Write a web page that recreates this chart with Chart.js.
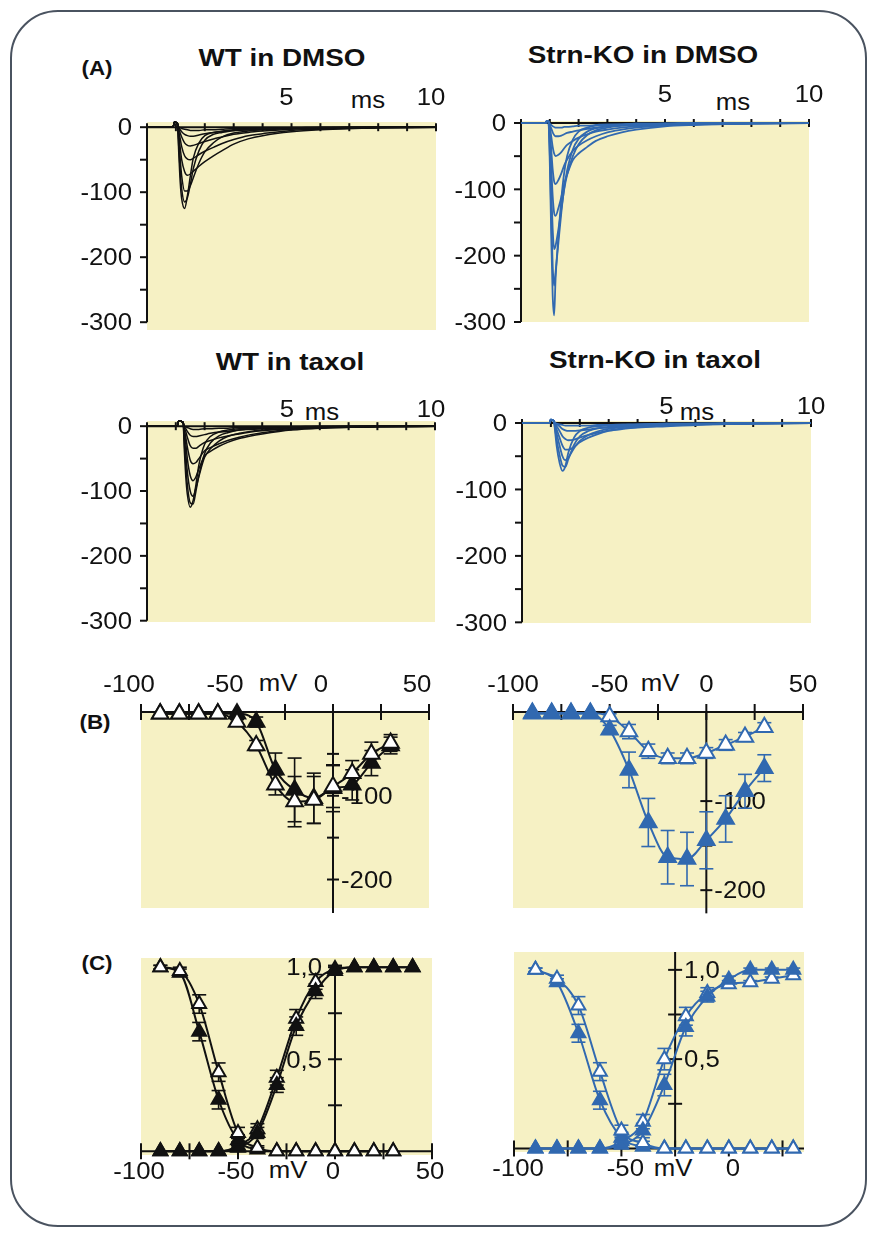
<!DOCTYPE html>
<html>
<head>
<meta charset="utf-8">
<script src="https://cdn.jsdelivr.net/npm/chart.js@4.4.1/dist/chart.umd.min.js"></script>
<style>
body { margin: 0; background: #fff; width: 875px; height: 1238px; position: relative; overflow: hidden; font-family: "Liberation Sans", Arial, sans-serif; }
#frame { position: absolute; left: 10px; top: 10px; width: 853px; height: 1213px; border: 2px solid #4a5360; border-radius: 48px; }
canvas { position: absolute; }
.t { position: absolute; transform: translate(-50%, -50%) scaleX(1.12); white-space: nowrap; line-height: 1; font-size: 23px; color: #111; }
.b { font-weight: bold; font-size: 24px; transform: translate(-50%, -50%) scaleX(1.16); }
.p { font-weight: bold; font-size: 20px; }
</style>
</head>
<body>
<div id="frame"></div>

<div class="t p" style="left:97px;top:68px">(A)</div>
<div class="t b" style="left:282px;top:58px">WT in DMSO</div>
<div class="t b" style="left:643px;top:55px">Strn-KO in DMSO</div>
<div class="t b" style="left:290px;top:362px">WT in taxol</div>
<div class="t b" style="left:655px;top:360px">Strn-KO in taxol</div>
<div class="t" style="left:368px;top:100px">ms</div>
<div class="t" style="left:733px;top:102px">ms</div>
<div class="t" style="left:322px;top:412px">ms</div>
<div class="t" style="left:697px;top:412px">ms</div>
<div class="t" style="left:192px;top:307px">pA/pF</div>
<div class="t" style="left:606px;top:305px">pA/pF</div>
<div class="t" style="left:211px;top:607px">pA/pF</div>
<div class="t" style="left:592px;top:595px">pA/pF</div>

<div class="t p" style="left:95px;top:722px">(B)</div>
<div class="t" style="left:278px;top:683px">mV</div>
<div class="t" style="left:660px;top:683px">mV</div>
<div class="t" style="left:292px;top:877px">pA/pF</div>
<div class="t" style="left:602px;top:872px">pA/pF</div>

<div class="t p" style="left:97px;top:963px">(C)</div>
<div class="t" style="left:288px;top:1170px">mV</div>
<div class="t" style="left:673px;top:1168px">mV</div>
<div class="t" style="left:372px;top:1035px">F.A.</div>
<div class="t" style="left:710px;top:1113px">F.A.</div>

<script>
// ---- (A) Na+ current traces, pA/pF against time in ms ----
var tWtDmso = [0, 0.9, 0.95, 1.05, 1.1, 1.15, 1.2, 1.3, 1.4, 1.5, 1.6, 1.8, 2.0, 2.3, 2.6, 3.0, 3.5, 4.0, 5.0, 6.0, 8.0, 10.0];
var wtDmso = [
    [0, 0, 8, 6, -40, -85, -110, -125, -105, -75, -48, -24, -13, -8, -6, -4, -3, -2, -1, -1, 0, 0],
    [0, 0, 8, 6, -30, -68, -95, -115, -108, -88, -64, -36, -20, -11, -8, -5, -4, -3, -1, -1, 0, 0],
    [0, 0, 8, 6, -20, -50, -75, -98, -98, -90, -78, -55, -38, -24, -15, -9, -6, -4, -2, -1, 0, 0],
    [0, 0, 8, 6, -12, -32, -50, -68, -74, -72, -68, -60, -53, -44, -36, -26, -18, -13, -7, -4, -1, 0],
    [0, 0, 8, 6, -7, -18, -30, -44, -49, -50, -48, -42, -37, -31, -25, -19, -13, -10, -5, -3, -1, 0],
    [0, 0, 8, 6, -3, -9, -15, -24, -28, -29, -28, -25, -22, -18, -15, -11, -8, -6, -3, -2, -1, 0],
    [0, 0, 8, 6, -1, -4, -7, -11, -13, -14, -14, -12, -10, -8, -7, -5, -4, -3, -2, -1, 0, 0],
    [0, 0, 8, 6, 0, -1, -2, -3, -4, -5, -5, -5, -4, -4, -3, -2, -2, -1, -1, 0, 0, 0]
];

var tKoDmso = [0, 0.85, 0.9, 0.95, 1.0, 1.05, 1.1, 1.15, 1.2, 1.3, 1.4, 1.5, 1.6, 1.8, 2.0, 2.3, 2.6, 3.0, 3.5, 4.0, 5.0, 6.0, 8.0, 10.0];
var koDmso = [
    [0, 0, 3, 3, -60, -170, -260, -290, -235, -170, -115, -75, -50, -25, -13, -7, -4, -3, -2, -1, -1, 0, 0, 0],
    [0, 0, 3, 3, -45, -140, -215, -245, -225, -180, -135, -98, -72, -40, -24, -13, -8, -5, -3, -2, -1, 0, 0, 0],
    [0, 0, 3, 3, -30, -100, -160, -190, -185, -160, -130, -100, -78, -50, -32, -18, -11, -7, -4, -3, -1, -1, 0, 0],
    [0, 0, 3, 3, -20, -65, -110, -135, -140, -128, -112, -92, -78, -56, -46, -36, -27, -20, -14, -10, -5, -3, -1, 0],
    [0, 0, 3, 3, -12, -40, -70, -88, -92, -86, -76, -64, -55, -42, -34, -26, -20, -14, -10, -7, -4, -2, -1, 0],
    [0, 0, 3, 3, -6, -20, -36, -46, -50, -48, -44, -38, -33, -27, -22, -17, -13, -10, -7, -5, -3, -2, -1, 0],
    [0, 0, 3, 3, -3, -8, -14, -18, -20, -20, -19, -17, -15, -13, -11, -9, -7, -5, -4, -3, -2, -1, 0, 0],
    [0, 0, 3, 3, -1, -3, -5, -6, -7, -7, -7, -6, -6, -5, -4, -4, -3, -2, -2, -1, -1, 0, 0, 0]
];

var tWtTaxol = [0, 1.05, 1.1, 1.25, 1.3, 1.35, 1.4, 1.5, 1.6, 1.7, 1.8, 2.0, 2.2, 2.5, 2.8, 3.2, 3.6, 4.0, 5.0, 6.0, 8.0, 10.0];
var wtTaxol = [
    [0, 0, 8, 6, -40, -80, -105, -125, -115, -90, -60, -28, -16, -9, -6, -4, -3, -2, -1, -1, 0, 0],
    [0, 0, 8, 6, -28, -62, -90, -118, -120, -100, -76, -42, -26, -15, -10, -6, -4, -3, -2, -1, 0, 0],
    [0, 0, 8, 6, -18, -45, -70, -100, -108, -95, -78, -48, -35, -23, -16, -11, -8, -6, -3, -2, 0, 0],
    [0, 0, 8, 6, -10, -28, -50, -76, -84, -78, -66, -46, -39, -31, -25, -19, -15, -12, -6, -3, -1, 0],
    [0, 0, 8, 6, -6, -18, -32, -52, -58, -56, -50, -38, -33, -27, -22, -17, -13, -10, -5, -3, -1, 0],
    [0, 0, 8, 6, -3, -9, -17, -30, -34, -34, -31, -25, -22, -18, -15, -12, -9, -7, -4, -2, -1, 0],
    [0, 0, 8, 6, -1, -4, -8, -14, -16, -16, -15, -13, -11, -9, -8, -6, -5, -4, -2, -1, 0, 0],
    [0, 0, 8, 6, 0, -1, -2, -4, -5, -5, -5, -4, -4, -3, -3, -2, -2, -1, -1, 0, 0, 0]
];

var tKoTaxol = [0, 0.95, 1.0, 1.1, 1.15, 1.2, 1.3, 1.4, 1.5, 1.6, 1.8, 2.0, 2.3, 2.6, 3.0, 3.5, 4.0, 5.0, 6.0, 8.0, 10.0];
var koTaxol = [
    [0, 0, 5, 3, -15, -35, -60, -72, -65, -45, -22, -12, -7, -5, -4, -3, -2, -1, -1, 0, 0],
    [0, 0, 5, 3, -10, -25, -48, -64, -66, -55, -33, -20, -12, -8, -6, -4, -3, -2, -1, 0, 0],
    [0, 0, 5, 3, -6, -16, -34, -50, -56, -52, -38, -27, -18, -13, -9, -6, -5, -3, -2, -1, 0],
    [0, 0, 5, 3, -4, -10, -22, -34, -40, -40, -36, -29, -22, -17, -12, -9, -7, -5, -3, -1, 0],
    [0, 0, 5, 3, -2, -5, -12, -20, -24, -26, -25, -22, -18, -15, -11, -8, -6, -4, -2, -1, 0],
    [0, 0, 5, 3, -1, -2, -5, -9, -11, -12, -12, -11, -10, -8, -7, -5, -4, -3, -2, -1, 0],
    [0, 0, 5, 3, 0, -1, -2, -3, -4, -4, -4, -4, -4, -3, -3, -2, -2, -1, -1, 0, 0]
];

// ---- (B) current-voltage, pA/pF against mV (filled = DMSO, open = taxol) ----
var vIV = [-90, -80, -70, -60, -50, -40, -30, -20, -10, 0, 10, 20, 30];
var wtIvFilled = [-2, -2, -2, -2, -2, -12, -69, -93, -103, -91, -87, -61, -40];
var wtIvFilledErr = [0, 0, 0, 0, 2, 6, 20, 38, 30, 28, 18, 15, 10];
var wtIvOpen = [-2, -2, -2, -2, -12, -40, -87, -107, -105, -89, -73, -50, -37];
var wtIvOpenErr = [0, 0, 0, 0, 3, 6, 12, 30, 28, 25, 15, 14, 10];
var koIvFilled = [-2, -2, -2, -2, -20, -65, -124, -163, -165, -144, -120, -89, -63];
var koIvFilledErr = [0, 0, 0, 0, 5, 20, 27, 30, 30, 32, 26, 19, 15];
var koIvOpen = [-1, -1, -1, -1, -5, -22, -44, -52, -52, -46, -37, -28, -17];
var koIvOpenErr = [0, 0, 0, 0, 3, 8, 8, 6, 6, 6, 6, 5, 5];

// ---- (C) fractional availability (F.A.): activation and inactivation ----
var vActWt = [-90, -80, -70, -60, -50, -40, -30, -20, -10, 0, 10, 20, 30, 40];
var wtActFilled = [0, 0, 0, 0, 0.02, 0.10, 0.36, 0.68, 0.87, 0.98, 1.0, 1.0, 1.0, 1.0];
var wtActOpen = [0, 0, 0, 0, 0.03, 0.12, 0.40, 0.72, 0.92, 0.99, 1.0, 1.0, 1.0, 1.0];
var wtActErr = [0, 0, 0, 0, 0.02, 0.03, 0.04, 0.05, 0.04, 0.02, 0, 0, 0, 0];
var vInactWt = [-90, -80, -70, -60, -50, -40, -30, -20, -10, 0, 10, 20, 30];
var wtInactFilled = [1.0, 0.97, 0.65, 0.28, 0.06, 0.01, 0, 0, 0, 0, 0, 0, 0];
var wtInactOpen = [1.0, 0.98, 0.80, 0.43, 0.10, 0.02, 0, 0, 0, 0, 0, 0, 0];
var wtInactErr = [0.01, 0.02, 0.05, 0.05, 0.03, 0.01, 0, 0, 0, 0, 0, 0, 0];

var vActKo = [-90, -80, -70, -60, -50, -40, -30, -20, -10, 0, 10, 20, 30];
var koActFilled = [0, 0, 0, 0, 0.02, 0.10, 0.355, 0.68, 0.85, 0.945, 1.0, 1.0, 1.0];
var koActOpen = [0, 0, 0, 0, 0.04, 0.15, 0.50, 0.74, 0.87, 0.92, 0.93, 0.95, 0.97];
var koActErr = [0, 0, 0, 0, 0.02, 0.04, 0.06, 0.05, 0.03, 0.02, 0.01, 0.01, 0.01];
var vInactKo = [-90, -80, -70, -60, -50, -40, -30, -20, -10, 0, 10, 20, 30];
var koInactFilled = [1.0, 0.93, 0.645, 0.27, 0.06, 0.01, 0, 0, 0, 0, 0, 0, 0];
var koInactOpen = [1.0, 0.95, 0.80, 0.43, 0.10, 0.03, 0, 0, 0, 0, 0, 0, 0];
var koInactErr = [0.01, 0.02, 0.05, 0.05, 0.03, 0.01, 0, 0, 0, 0, 0, 0, 0];

// ---- axis ticks and tick labels ----
var msTicks = [0, 1, 2, 3, 4, 5, 6, 7, 8, 9, 10];
var msLabels = [5, 10];
var paTicks = [0, -50, -100, -150, -200, -250, -300];
var paLabels = [0, -100, -200, -300];
var mvTicks = [-100, -75, -50, -25, 0, 25, 50];
var mvTicksKoC = [-100, -75, -50, -25, 0, 25];
var mvLabels = [-100, -50, 0, 50];
var mvLabelsKoC = [-100, -50, 0];
var ivTicks = [-50, -100, -150, -200];
var ivLabels = [-100, -200];
var faTicks = [0.25, 0.5, 0.75, 1.0];
var faLabels = [0.5, 1.0];

var YELLOW = '#f6f1c4';
var BLACK = '#111111';
var BLUE = '#3169b0';
var FS = 23, SX = 1.12;

function pts(xs, ys) {
    return xs.map(function (x, i) { return { x: x, y: ys[i] }; });
}

function traceSets(t, traces, color, w) {
    return traces.map(function (v) {
        return { data: pts(t, v), borderColor: color, borderWidth: w, pointRadius: 0,
                 cubicInterpolationMode: 'monotone', clip: false };
    });
}

function markerSet(xs, ys, err, color, open, r) {
    return { data: pts(xs, ys), errors: err, borderColor: color, borderWidth: 2,
             pointStyle: 'triangle', pointRadius: r, pointBorderWidth: 2,
             pointBorderColor: color, pointBackgroundColor: open ? '#ffffff' : color,
             cubicInterpolationMode: 'monotone', clip: false };
}

function fmtTick(v, comma) {
    return comma ? v.toFixed(1).replace('.', ',') : String(v);
}

function sText(ctx, s, x, y, align) {
    ctx.save();
    ctx.translate(x, y);
    ctx.scale(SX, 1);
    ctx.textAlign = align;
    ctx.textBaseline = 'alphabetic';
    ctx.fillText(s, 0, 0.36 * FS);
    ctx.restore();
}

function seg(ctx, x1, y1, x2, y2) {
    ctx.beginPath(); ctx.moveTo(x1, y1); ctx.lineTo(x2, y2); ctx.stroke();
}

// draws the yellow field, the crossing axes, their ticks and labels, and error bars
var figAxes = {
    id: 'figAxes',
    beforeDraw: function (chart) {
        var a = chart.chartArea, ctx = chart.ctx;
        ctx.save();
        ctx.fillStyle = YELLOW;
        ctx.fillRect(a.left, a.top, a.right - a.left, a.bottom - a.top);
        ctx.restore();
    },
    beforeDatasetsDraw: function (chart) {
        var o = chart.options.plugins.figAxes;
        var xs = chart.scales.x, ys = chart.scales.y, ctx = chart.ctx;
        ctx.save();
        ctx.strokeStyle = BLACK; ctx.fillStyle = BLACK; ctx.lineWidth = 2;
        ctx.font = FS + 'px "Liberation Sans", Arial, sans-serif';

        var X = o.x, y0 = ys.getPixelForValue(X.at);
        seg(ctx, xs.getPixelForValue(X.from), y0, xs.getPixelForValue(X.to), y0);
        X.ticks.forEach(function (v) {
            var px = xs.getPixelForValue(v);
            seg(ctx, px, y0 - X.up, px, y0 + X.down);
        });
        X.labels.forEach(function (v) {
            sText(ctx, fmtTick(v, false), xs.getPixelForValue(v) + X.dx, y0 + X.dy, 'center');
        });

        var Y = o.y, x0 = xs.getPixelForValue(Y.at);
        seg(ctx, x0, ys.getPixelForValue(Y.from), x0, ys.getPixelForValue(Y.to));
        Y.ticks.forEach(function (v) {
            var py = ys.getPixelForValue(v);
            seg(ctx, x0 - Y.left, py, x0 + Y.right, py);
        });
        Y.labels.forEach(function (v) {
            sText(ctx, fmtTick(v, Y.comma), x0 + Y.dx, ys.getPixelForValue(v), Y.dx < 0 ? 'right' : 'left');
        });

        ctx.lineWidth = 1.6;
        chart.data.datasets.forEach(function (ds, i) {
            if (!ds.errors) return;
            var meta = chart.getDatasetMeta(i);
            ctx.strokeStyle = ds.borderColor;
            meta.data.forEach(function (el, j) {
                var e = ds.errors[j];
                if (!e) return;
                var v = ds.data[j].y;
                var yt = ys.getPixelForValue(v + e), yb = ys.getPixelForValue(v - e);
                seg(ctx, el.x, yt, el.x, yb);
                seg(ctx, el.x - 7, yt, el.x + 7, yt);
                seg(ctx, el.x - 7, yb, el.x + 7, yb);
            });
        });
        ctx.restore();
    }
};

var M = 110;
function makePanel(area, xr, yr, datasets, axes) {
    var c = document.createElement('canvas');
    var w = (area.r - area.l) + 2 * M, h = (area.b - area.t) + 2 * M;
    c.width = w; c.height = h;
    c.style.left = (area.l - M) + 'px';
    c.style.top = (area.t - M) + 'px';
    c.style.width = w + 'px';
    c.style.height = h + 'px';
    document.body.appendChild(c);
    return new Chart(c, {
        type: 'line',
        data: { datasets: datasets },
        options: {
            responsive: false,
            devicePixelRatio: 1,
            animation: false,
            layout: { padding: M },
            plugins: { legend: { display: false }, tooltip: { enabled: false }, figAxes: axes },
            scales: {
                x: { type: 'linear', min: xr[0], max: xr[1], display: false },
                y: { type: 'linear', min: yr[0], max: yr[1], display: false }
            }
        },
        plugins: [figAxes]
    });
}

function traceAxes(labelDy, labelDx) {
    return {
        x: { at: 0, from: 0, to: 10, ticks: msTicks, up: 4, down: 4, labels: msLabels, dy: labelDy, dx: labelDx },
        y: { at: 0, from: -300, to: 0, ticks: paTicks, left: 7, right: 0, labels: paLabels, dx: -15 }
    };
}

function ivAxes(yBottom, labelDx) {
    return {
        x: { at: 0, from: -100, to: 50, ticks: mvTicks, up: 8, down: 8, labels: mvLabels, dy: -28, dx: labelDx },
        y: { at: 0, from: yBottom, to: 0, ticks: ivTicks, left: 6, right: 6, labels: ivLabels, dx: 8 }
    };
}

// (A)
makePanel({ l: 147, r: 436, t: 122, b: 330 }, [0, 10], [-312, 8],
    traceSets(tWtDmso, wtDmso, BLACK, 1.5), traceAxes(-30, -5));
makePanel({ l: 521, r: 809, t: 121, b: 322 }, [0, 10], [-300, 3],
    traceSets(tKoDmso, koDmso, BLUE, 1.8), traceAxes(-29, 0));
makePanel({ l: 147, r: 435, t: 421, b: 622 }, [0, 10], [-302, 8],
    traceSets(tWtTaxol, wtTaxol, BLACK, 1.5), traceAxes(-17, -4));
makePanel({ l: 522, r: 811, t: 421, b: 623 }, [0, 10], [-301, 3],
    traceSets(tKoTaxol, koTaxol, BLUE, 1.8), traceAxes(-17, 0));

// (B)  Chart.js paints the first dataset last, i.e. on top
makePanel({ l: 141, r: 429, t: 712, b: 908 }, [-100, 50], [-234, 0], [
    markerSet(vIV, wtIvOpen, wtIvOpenErr, BLACK, true, 9.5),
    markerSet(vIV, wtIvFilled, wtIvFilledErr, BLACK, false, 9.5)
], ivAxes(-240, -12));
makePanel({ l: 513, r: 803, t: 712, b: 908 }, [-100, 50], [-220, 0], [
    markerSet(vIV, koIvFilled, koIvFilledErr, BLUE, false, 9.5),
    markerSet(vIV, koIvOpen, koIvOpenErr, BLUE, true, 9.5)
], ivAxes(-226, 0));

// (C)
makePanel({ l: 141, r: 432, t: 958, b: 1155 }, [-100, 50], [-0.02, 1.05], [
    markerSet(vInactWt, wtInactOpen, wtInactErr, BLACK, true, 8),
    markerSet(vInactWt, wtInactFilled, wtInactErr, BLACK, false, 8),
    markerSet(vActWt, wtActFilled, wtActErr, BLACK, false, 8),
    markerSet(vActWt, wtActOpen, wtActErr, BLACK, true, 8)
], {
    x: { at: 0, from: -100, to: 50, ticks: mvTicks, up: 8, down: 8, labels: mvLabels, dy: 19, dx: -2 },
    y: { at: 0, from: 0, to: 1.02, ticks: faTicks, left: 7, right: 7, labels: faLabels, dx: -13, comma: true }
});

makePanel({ l: 514, r: 804, t: 952, b: 1152 }, [-100, 35], [-0.02, 1.1], [
    markerSet(vInactKo, koInactOpen, koInactErr, BLUE, true, 8),
    markerSet(vInactKo, koInactFilled, koInactErr, BLUE, false, 8),
    markerSet(vActKo, koActFilled, koActErr, BLUE, false, 8),
    markerSet(vActKo, koActOpen, koActErr, BLUE, true, 8)
], {
    x: { at: 0, from: -100, to: 35, ticks: mvTicksKoC, up: 8, down: 8, labels: mvLabelsKoC, dy: 19, dx: 4 },
    y: { at: -25, from: 0, to: 1.1, ticks: faTicks, left: 7, right: 7, labels: faLabels, dx: 9, comma: true }
});
</script>
</body>
</html>
